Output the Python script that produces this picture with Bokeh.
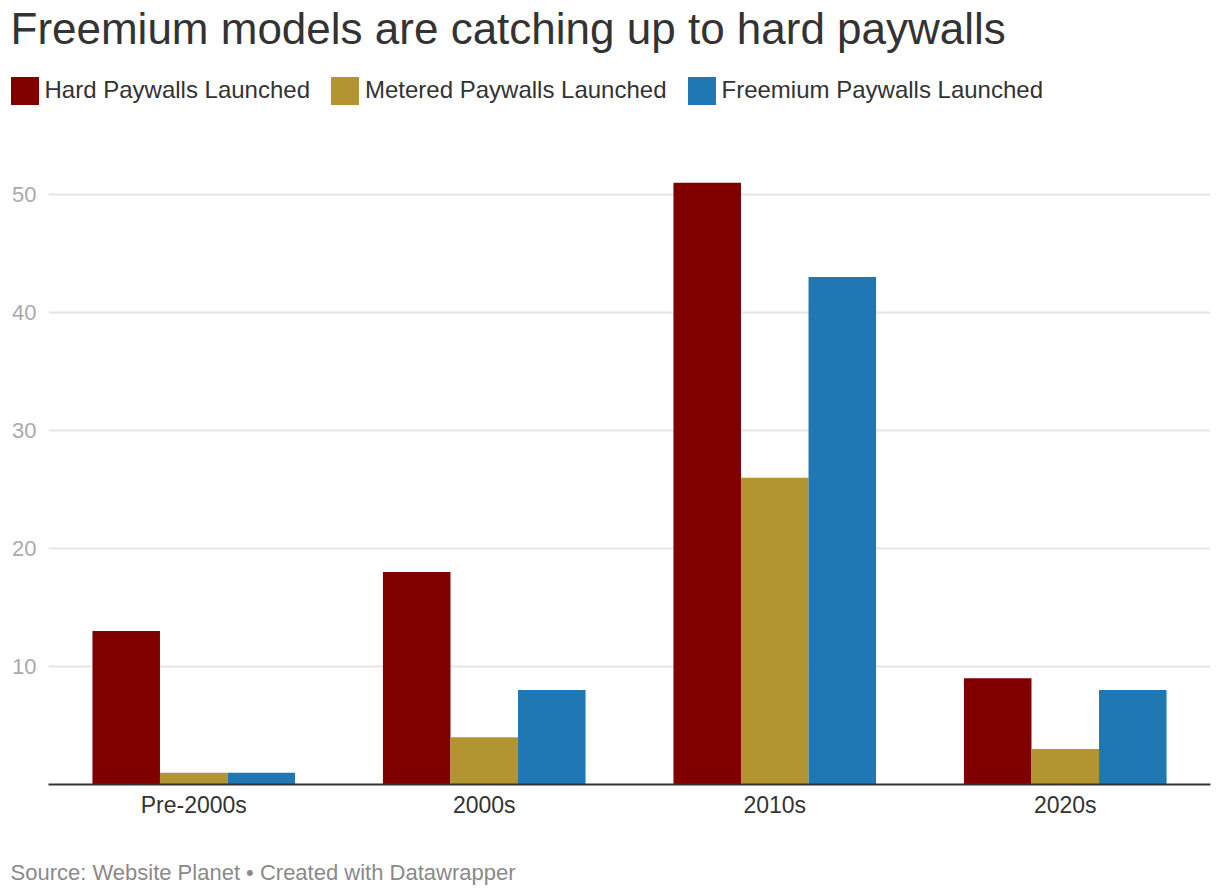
from bokeh.plotting import figure
from bokeh.models import Range1d, FixedTicker, Label, Legend, LegendItem, ColumnDataSource
from bokeh.layouts import column
from bokeh.transform import dodge
from bokeh.embed import file_html
from bokeh.resources import INLINE

# ---- data ----
decades = ["Pre-2000s", "2000s", "2010s", "2020s"]
hard_paywalls = [13, 18, 51, 9]
metered_paywalls = [1, 4, 26, 3]
freemium_paywalls = [1, 8, 43, 8]
series_labels = ["Hard Paywalls Launched", "Metered Paywalls Launched", "Freemium Paywalls Launched"]
y_ticks = [10, 20, 30, 40, 50]
title_text = "Freemium models are catching up to hard paywalls"
source_text = "Source: Website Planet \u2022 Created with Datawrapper"

FONT = "Liberation Sans"
colors = ["#800000", "#b29530", "#1f78b4"]
W = 1212


def no_align(f):
    if "frame_align" in f.properties():
        f.frame_align = False


def blank_fig(h):
    f = figure(width=W, height=h, x_range=Range1d(0, W), y_range=Range1d(0, h),
               output_backend="svg", toolbar_location=None,
               x_axis_location=None, y_axis_location=None,
               min_border_left=0, min_border_right=0, min_border_top=0, min_border_bottom=0)
    f.outline_line_color = None
    f.grid.grid_line_color = None
    f.background_fill_color = "white"
    f.border_fill_color = "white"
    no_align(f)
    return f


# ---- header: title + legend ----
TOP_H = 120
ph = blank_fig(TOP_H)
ph.add_layout(Label(x=10, y=TOP_H - 28, text=title_text, text_font=FONT,
                    text_font_size="44px", text_color="#333333",
                    text_baseline="alphabetic"))
items = []
for col, lab in zip(colors, series_labels):
    # zero-height swatch renderers that only feed the legend
    r = ph.vbar(x=[0], top=[0], width=1, fill_color=col, line_color=None)
    items.append(LegendItem(label=lab, renderers=[r]))
# area swatches are drawn inset by 10% of the glyph box, so 35px box -> 28px square
leg = Legend(items=items, orientation="horizontal", location=(6.5, TOP_H - 107.5),
             padding=0, margin=0, spacing=17, glyph_width=35, glyph_height=35,
             label_height=35, label_standoff=3, label_text_font=FONT,
             label_text_font_size="24px", label_text_color="#333333",
             border_line_color=None, background_fill_alpha=0)
ph.add_layout(leg, "center")

# ---- main chart ----
src = ColumnDataSource(dict(decade=decades, hard=hard_paywalls,
                            metered=metered_paywalls, freemium=freemium_paywalls))
PX_PER_UNIT = 11.8
FRAME_TOP = 130 - TOP_H
FRAME_H = 784 - 130
MAIN_BOTTOM = 40
MAIN_H = FRAME_TOP + FRAME_H + MAIN_BOTTOM
y_end = FRAME_H / PX_PER_UNIT

p = figure(x_range=decades, y_range=Range1d(0, y_end), width=W, height=MAIN_H,
           output_backend="svg", toolbar_location=None,
           min_border_left=48, min_border_right=2, min_border_top=FRAME_TOP,
           min_border_bottom=MAIN_BOTTOM)
p.outline_line_color = None
p.background_fill_color = "white"
p.border_fill_color = "white"
no_align(p)

bw = 0.2325
for key, off, col in zip(["hard", "metered", "freemium"], [-bw, 0, bw], colors):
    p.vbar(x=dodge("decade", off, range=p.x_range), top=key, width=bw, source=src,
           fill_color=col, line_color=None)

p.yaxis.ticker = FixedTicker(ticks=y_ticks)
p.yaxis.axis_line_color = None
p.yaxis.major_tick_line_color = None
p.yaxis.minor_tick_line_color = None
p.yaxis.major_tick_out = 0
p.yaxis.major_tick_in = 0
p.yaxis.major_label_text_font = FONT
p.yaxis.major_label_text_font_size = "22px"
p.yaxis.major_label_text_color = "#aaaaaa"
p.yaxis.major_label_standoff = 12

p.xaxis.axis_line_color = "#333333"
p.xaxis.axis_line_width = 2
p.xaxis.major_tick_line_color = None
p.xaxis.minor_tick_line_color = None
p.xaxis.major_tick_out = 0
p.xaxis.major_tick_in = 0
p.xaxis.major_label_text_font = FONT
p.xaxis.major_label_text_font_size = "23px"
p.xaxis.major_label_text_color = "#333333"
p.xaxis.major_label_standoff = 7

p.xgrid.grid_line_color = None
p.ygrid.ticker = FixedTicker(ticks=y_ticks)
p.ygrid.grid_line_color = "#e6e6e6"
p.ygrid.grid_line_width = 2

# ---- footer: source ----
BOT_Y0 = TOP_H + MAIN_H
BOT_H = 890 - BOT_Y0
pf = blank_fig(BOT_H)
pf.add_layout(Label(x=10, y=BOT_H - (872 - BOT_Y0), text=source_text,
                    text_font=FONT, text_font_size="22px", text_color="#8a8a8a",
                    text_baseline="alphabetic"))

layout = column(ph, p, pf, spacing=0)
open("out.html", "w").write(file_html(layout, INLINE))
